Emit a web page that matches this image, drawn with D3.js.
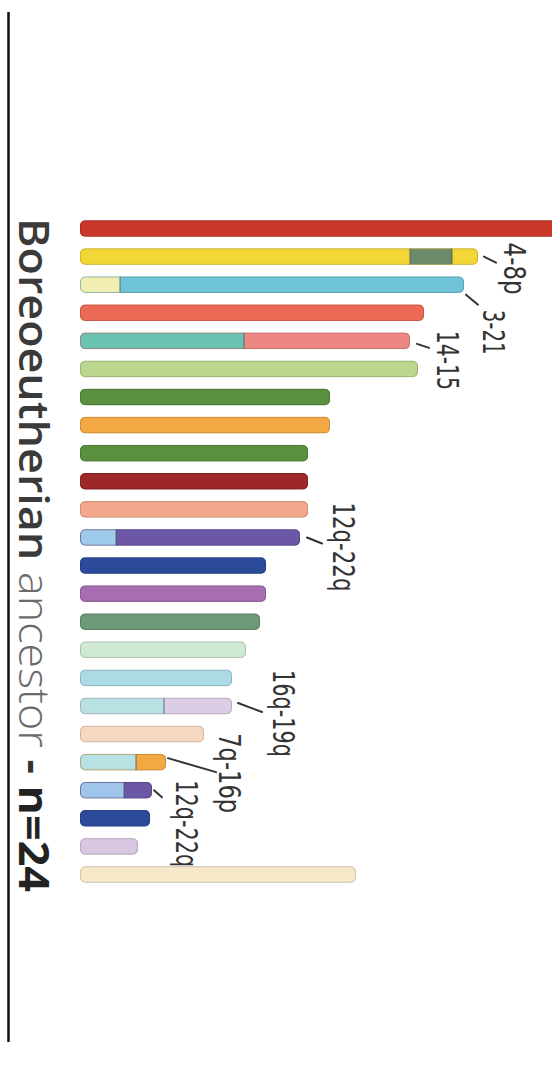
<!DOCTYPE html>
<html>
<head>
<meta charset="utf-8">
<script src="https://cdn.jsdelivr.net/npm/d3@7"></script>
<style>
html,body{margin:0;padding:0;background:#fff;}
svg{display:block;}
</style>
</head>
<body>
<svg id="chart" width="552" height="1065"></svg>
<script>
// ---- data ----
const barIds = d3.range(1, 25);
const segLengths = [
  [245], [165, 21, 13], [20, 172], [172], [82, 83], [169],
  [125], [125], [114], [114], [114], [18, 92],
  [93], [93], [90], [83], [76], [42, 34],
  [62], [28, 15], [22, 14], [35], [29], [138]
];
const segColors = [
  ["#c9372b"], ["#f2d636", "#6b8a6a", "#f2d636"], ["#f2edb2", "#6fc3d6"], ["#ec6a55"], ["#6cc2b1", "#ec8782"], ["#bcd78d"],
  ["#5a9140"], ["#f2a843"], ["#5a9140"], ["#9e2829"], ["#f3a88b"], ["#9fcbea", "#6c56a6"],
  ["#2b4a9a"], ["#a66db1"], ["#6c9978"], ["#cfe9d2"], ["#acdbe6"], ["#b7e1e3", "#dccde6"],
  ["#f5d8c2"], ["#b7e1e3", "#f2a843"], ["#9fc6ea", "#6c56a6"], ["#2b4a9a"], ["#d9c7e1"], ["#f6e8c9"]
];
const labelTexts = ["4-8p", "3-21", "14-15", "12q-22q", "16q-19q", "7q-16p", "12q-22q"];
const labelBars = [1, 2, 4, 11, 17, 19, 20];
const titleParts = ["Boreoeutherian", " ancestor", " - ", "n=24"];

// ---- layout (positions relative to bar end / bar centre) ----
const labelLayout = [
  {dx: 26, dy: -14, len: 52, t: [6, 0, 18, 6]},
  {dx: 19, dy: 25, len: 45, t: [2, 10, 14, 20]},
  {dx: 27, dy: -10, len: 59, t: [7, 3, 19, 7]},
  {dx: 33, dy: -35, len: 89, t: [7, 0, 22, 6]},
  {dx: 41, dy: -36, len: 87, t: [6, -3, 30, 6]},
  {dx: 53, dy: -29, len: 80, t: [2, -4, 50, 10]},
  {dx: 24, dy: -10, len: 87, t: [2, 0, 10, 7]}
];

const svg = d3.select("#chart");
const x = d3.scaleLinear().domain([0, 250]).range([80, 580]);
const y = d3.scalePoint().domain(barIds).range([228.5, 874.5]);
const barH = 16.5, r = 5;

// left vertical rule
svg.append("line").attr("x1", 8.5).attr("x2", 8.5).attr("y1", 12).attr("y2", 1042)
  .attr("stroke", "#111").attr("stroke-width", 2.5);

const defs = svg.append("defs");
const g = svg.append("g");

barIds.forEach((id, i) => {
  const segs = segLengths[i];
  const total = d3.sum(segs);
  const y0 = y(id) - barH / 2;
  const clipId = "clip" + id;
  defs.append("clipPath").attr("id", clipId).append("rect")
    .attr("x", x(0)).attr("y", y0).attr("width", x(total) - x(0)).attr("height", barH)
    .attr("rx", r).attr("ry", r);
  const bg = g.append("g").attr("clip-path", `url(#${clipId})`);
  let acc = 0;
  segs.forEach((v, j) => {
    bg.append("rect")
      .attr("x", x(acc)).attr("y", y0)
      .attr("width", x(acc + v) - x(acc)).attr("height", barH)
      .attr("fill", segColors[i][j]);
    if (j > 0) {
      bg.append("line").attr("x1", x(acc)).attr("x2", x(acc))
        .attr("y1", y0).attr("y2", y0 + barH)
        .attr("stroke", "#4a5a5a").attr("stroke-width", 1.2).attr("opacity", 0.7);
    }
    acc += v;
  });
  g.append("rect")
    .attr("x", x(0) + 0.5).attr("y", y0 + 0.5)
    .attr("width", x(total) - x(0) - 1).attr("height", barH - 1)
    .attr("rx", r).attr("ry", r)
    .attr("fill", "none")
    .attr("stroke", d3.color(segColors[i][segColors[i].length - 1]).darker(0.9))
    .attr("stroke-opacity", 0.6).attr("stroke-width", 1);
});

// labels with ticks
labelTexts.forEach((t, k) => {
  const bi = labelBars[k];
  const id = barIds[bi];
  const ex = x(d3.sum(segLengths[bi]));
  const cy = y(id);
  const L = labelLayout[k];
  svg.append("line")
    .attr("x1", ex + L.t[0]).attr("y1", cy + L.t[1])
    .attr("x2", ex + L.t[2]).attr("y2", cy + L.t[3])
    .attr("stroke", "#333").attr("stroke-width", 2).attr("stroke-linecap", "round");
  svg.append("text")
    .attr("transform", `translate(${ex + L.dx},${cy + L.dy}) rotate(90)`)
    .attr("font-family", "'DejaVu Sans Condensed', 'DejaVu Sans', sans-serif")
    .attr("font-size", 31)
    .attr("fill", "#333")
    .attr("textLength", L.len)
    .attr("lengthAdjust", "spacingAndGlyphs")
    .text(t);
});

// title
const title = svg.append("text")
  .attr("transform", "translate(19,218) rotate(90)")
  .attr("font-family", "'Open Sans', 'Noto Sans', sans-serif")
  .attr("font-size", 42)
  .attr("textLength", 674)
  .attr("lengthAdjust", "spacingAndGlyphs");
const styles = [
  {fill: "#3a3a3a", w: 600},
  {fill: "#6a6a6a", w: 300},
  {fill: "#333", w: 700},
  {fill: "#222", w: 700}
];
titleParts.forEach((p, k) => {
  title.append("tspan").attr("fill", styles[k].fill).attr("font-weight", styles[k].w)
    .attr("xml:space", "preserve").text(p);
});
</script>
</body>
</html>
